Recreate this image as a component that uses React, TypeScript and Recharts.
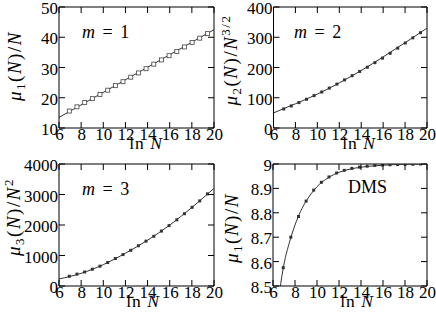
import { ComposedChart, Line, Scatter, XAxis, YAxis, ReferenceLine } from 'recharts';

// ln N for N = 2^10 ... 2^28
const lnN = [6.93, 7.62, 8.32, 9.01, 9.7, 10.4, 11.09, 11.78, 12.48, 13.17, 13.86, 14.56, 15.25, 15.94, 16.64, 17.33, 18.02, 18.71, 19.41];

const m1 = [15.6, 17.0, 18.4, 19.7, 21.1, 22.5, 24.0, 25.3, 26.8, 28.2, 29.6, 31.1, 32.5, 33.9, 35.3, 36.8, 38.3, 39.7, 41.2];
const m2 = [63, 73, 84, 95, 107, 119, 132, 145, 159, 173, 187, 201, 216, 231, 247, 264, 281, 298, 315];
const m3 = [320, 390, 460, 550, 650, 770, 900, 1030, 1170, 1320, 1470, 1630, 1800, 1980, 2170, 2370, 2580, 2790, 3020];
const dms = [8.575, 8.7, 8.785, 8.848, 8.893, 8.925, 8.947, 8.963, 8.974, 8.982, 8.987, 8.991, 8.994, 8.996, 8.997, 8.998, 8.999, 8.999, 9.0];

// fitted curves
const fit1X = [6, 20];
const fit1Y = [13.5, 42.5];
const fit2X = [6, 8, 10, 12, 14, 16, 18, 20];
const fit2Y = [50, 80, 112, 149, 190, 235, 282, 330];
const fit3X = [6, 8, 10, 12, 14, 16, 18, 20];
const fit3Y = [230, 415, 700, 1074, 1502, 1997, 2574, 3200];
const fit4X = [6.6, 7, 7.5, 8, 8.5, 9, 9.5, 10, 11, 12, 13, 14, 16, 18, 20];
const fit4Y = [8.48, 8.59, 8.68, 8.75, 8.805, 8.847, 8.88, 8.907, 8.943, 8.966, 8.979, 8.987, 8.995, 8.999, 9.0];

const xTicks = [6, 8, 10, 12, 14, 16, 18, 20];
const y1Ticks = [10, 20, 30, 40, 50];
const y2Ticks = [0, 100, 200, 300, 400];
const y3Ticks = [0, 1000, 2000, 3000, 4000];
const y4Ticks = [8.5, 8.6, 8.7, 8.8, 8.9, 9];

const FONT = '"Liberation Serif", "DejaVu Serif", serif';
const TICK = 6;

const pts = (xs: number[], ys: number[]) => xs.map((x, i) => ({ x, y: ys[i] }));

function xTick(plotH: number) {
  return (p: any) => (
    <g>
      <line x1={p.x} x2={p.x} y1={p.y} y2={p.y - TICK} stroke="#000" />
      <line x1={p.x} x2={p.x} y1={p.y - plotH} y2={p.y - plotH + TICK} stroke="#000" />
      <text x={p.x + 0.5} y={p.y + 11.5} textAnchor="middle" fontFamily={FONT} fontSize={17} fill="#000">
        {p.payload.value}
      </text>
    </g>
  );
}

function yTick(plotW: number) {
  return (p: any) => (
    <g>
      <line x1={p.x} x2={p.x + TICK} y1={p.y} y2={p.y} stroke="#000" />
      <line x1={p.x + plotW} x2={p.x + plotW - TICK} y1={p.y} y2={p.y} stroke="#000" />
      <text x={p.x - 1} y={p.y + 7} textAnchor="end" fontFamily={FONT} fontSize={17} fill="#000">
        {p.payload.value}
      </text>
    </g>
  );
}

const openSquare = (p: any) => (
  <rect x={p.cx - 2} y={p.cy - 2} width={4} height={4} fill="#fff" stroke="#444" strokeWidth={0.8} />
);
const filledSquare = (p: any) => (
  <rect x={p.cx - 1.5} y={p.cy - 1.5} width={3} height={3} fill="#333" />
);

interface PanelProps {
  left: number;
  top: number;
  width: number;
  height: number;
  yWidth: number;
  right: number;
  yDomain: [number, number];
  yTicks: number[];
  markers: number[];
  fitX: number[];
  fitY: number[];
  open?: boolean;
}

function Panel({ left, top, width, height, yWidth, right, yDomain, yTicks, markers, fitX, fitY, open }: PanelProps) {
  const plotW = width - yWidth - right;
  const plotH = height - 7 - 30;
  return (
    <div style={{ position: 'absolute', left, top }}>
      <ComposedChart width={width} height={height} margin={{ top: 7, right, bottom: 0, left: 0 }}>
        <XAxis
          type="number"
          dataKey="x"
          domain={[6, 20]}
          ticks={xTicks}
          interval={0}
          height={30}
          tickSize={0}
          tickMargin={0}
          tickLine={false}
          axisLine={{ stroke: '#000' }}
          tick={xTick(plotH)}
          allowDataOverflow
        />
        <YAxis
          type="number"
          dataKey="y"
          domain={yDomain}
          ticks={yTicks}
          interval={0}
          width={yWidth}
          tickSize={0}
          tickMargin={0}
          tickLine={false}
          axisLine={{ stroke: '#000' }}
          tick={yTick(plotW)}
          allowDataOverflow
        />
        <ReferenceLine x={20} stroke="#000" />
        <ReferenceLine y={yDomain[1]} stroke="#000" />
        <Line
          data={pts(fitX, fitY)}
          dataKey="y"
          type="monotone"
          stroke="#333"
          strokeWidth={1}
          dot={false}
          isAnimationActive={false}
        />
        <Scatter
          data={pts(lnN, markers)}
          dataKey="y"
          shape={open ? openSquare : filledSquare}
          isAnimationActive={false}
        />
      </ComposedChart>
    </div>
  );
}

const sub = { fontSize: 13 };

export default function App() {
  const t = { fontFamily: FONT, fontSize: 19, fill: '#000', letterSpacing: 1.5 } as const;
  const lbl = { fontFamily: FONT, fontSize: 17.5, fill: '#000', letterSpacing: 1 } as const;
  return (
    <div style={{ position: 'absolute', left: 0, top: 0, width: 436, height: 316, background: '#fff' }}>
      <Panel left={0} top={0} width={232} height={158} yWidth={59} right={18} yDomain={[10, 50]} yTicks={y1Ticks} markers={m1} fitX={fit1X} fitY={fit1Y} open />
      <Panel left={218} top={0} width={218} height={158} yWidth={55.5} right={9} yDomain={[0, 400]} yTicks={y2Ticks} markers={m2} fitX={fit2X} fitY={fit2Y} />
      <Panel left={0} top={157} width={232} height={159} yWidth={59} right={18} yDomain={[0, 4000]} yTicks={y3Ticks} markers={m3} fitX={fit3X} fitY={fit3Y} />
      <Panel left={218} top={157} width={218} height={159} yWidth={55} right={9} yDomain={[8.5, 9]} yTicks={y4Ticks} markers={dms} fitX={fit4X} fitY={fit4Y} />
      <svg width={436} height={316} style={{ position: 'absolute', left: 0, top: 0, pointerEvents: 'none' }}>
        {/* axis titles */}
        <text {...t} x={21} y={66} textAnchor="middle" transform="rotate(-90 21 66)">
          <tspan fontStyle="italic">μ</tspan>
          <tspan {...sub} dy={4}>1</tspan>
          <tspan dy={-4}>(</tspan>
          <tspan fontStyle="italic">N</tspan>)/<tspan fontStyle="italic">N</tspan>
        </text>
        <text {...t} x={237} y={60} textAnchor="middle" transform="rotate(-90 237 60)">
          <tspan fontStyle="italic">μ</tspan>
          <tspan {...sub} dy={4}>2</tspan>
          <tspan dy={-4}>(</tspan>
          <tspan fontStyle="italic">N</tspan>)/<tspan fontStyle="italic">N</tspan>
          <tspan {...sub} dy={-7}>3/2</tspan>
        </text>
        <text {...t} x={20} y={217} textAnchor="middle" transform="rotate(-90 20 217)">
          <tspan fontStyle="italic">μ</tspan>
          <tspan {...sub} dy={4}>3</tspan>
          <tspan dy={-4}>(</tspan>
          <tspan fontStyle="italic">N</tspan>)/<tspan fontStyle="italic">N</tspan>
          <tspan {...sub} dy={-7}>2</tspan>
        </text>
        <text {...t} x={238} y={228} textAnchor="middle" transform="rotate(-90 238 228)">
          <tspan fontStyle="italic">μ</tspan>
          <tspan {...sub} dy={4}>1</tspan>
          <tspan dy={-4}>(</tspan>
          <tspan fontStyle="italic">N</tspan>)/<tspan fontStyle="italic">N</tspan>
        </text>
        <text {...lbl} x={146} y={149} textAnchor="middle">
          ln <tspan fontStyle="italic">N</tspan>
        </text>
        <text {...lbl} x={359} y={149} textAnchor="middle">
          ln <tspan fontStyle="italic">N</tspan>
        </text>
        <text {...lbl} x={143} y={307} textAnchor="middle">
          ln <tspan fontStyle="italic">N</tspan>
        </text>
        <text {...lbl} x={357} y={307} textAnchor="middle">
          ln <tspan fontStyle="italic">N</tspan>
        </text>
        {/* in-plot labels */}
        <text {...lbl} fontSize={18} wordSpacing={1} x={82} y={38}>
          <tspan fontStyle="italic">m</tspan> = 1
        </text>
        <text {...lbl} fontSize={18} wordSpacing={1} x={294} y={38}>
          <tspan fontStyle="italic">m</tspan> = 2
        </text>
        <text {...lbl} fontSize={18} wordSpacing={1} x={82} y={195}>
          <tspan fontStyle="italic">m</tspan> = 3
        </text>
        <text {...lbl} fontSize={18} letterSpacing={0} x={348} y={193}>
          DMS
        </text>
      </svg>
    </div>
  );
}
